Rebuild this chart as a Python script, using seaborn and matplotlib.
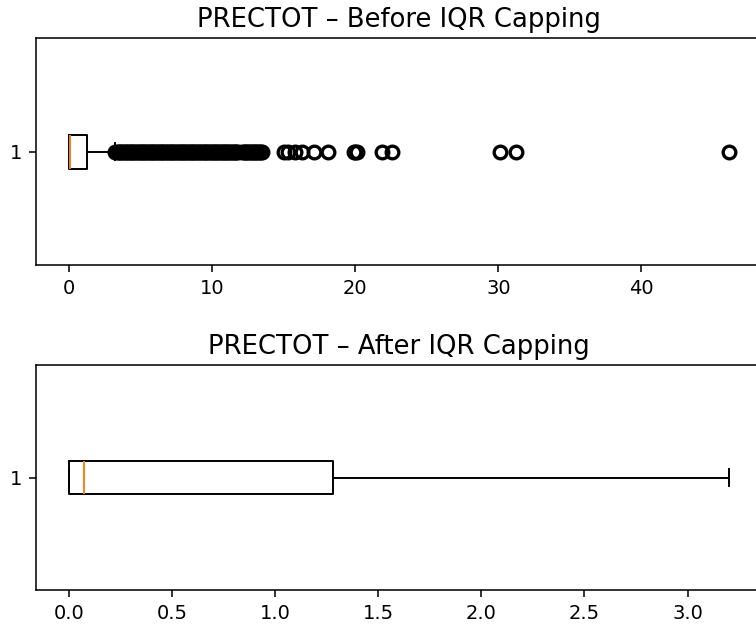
import numpy as np
import pandas as pd
import seaborn as sns
import matplotlib.pyplot as plt

# PRECTOT bulk of the distribution, as value / count pairs
core_values = [0.0, 0.02, 0.05, 0.075, 0.15, 0.3, 0.5, 0.8, 1.0, 1.2,
               1.28, 1.6, 2.0, 2.5, 2.9, 3.2]
core_counts = [240, 60, 70, 60, 40, 35, 35, 30, 20, 6,
               8, 20, 20, 18, 14, 10]

outliers = [
    3.25, 3.4, 3.5, 3.6, 3.7, 3.8, 3.9, 4.0, 4.1, 4.2,
    4.3, 4.4, 4.5, 4.6, 4.7, 4.8, 4.9, 5.0, 5.1, 5.2,
    5.3, 5.4, 5.5, 5.6, 5.7, 5.8, 5.9, 6.0, 6.1, 6.2,
    6.3, 6.4, 6.5, 6.6, 6.7, 6.8, 6.9, 7.0, 7.1, 7.2,
    7.3, 7.4, 7.5, 7.6, 7.7, 7.8, 7.9, 8.0, 8.1, 8.2,
    8.3, 8.4, 8.5, 8.6, 8.7, 8.8, 8.9, 9.0, 9.1, 9.2,
    9.3, 9.4, 9.5, 9.6, 9.7, 9.8, 9.9, 10.0, 10.1, 10.2,
    10.3, 10.4, 10.5, 10.6, 10.7, 10.8, 10.9, 11.0, 11.1, 11.2,
    11.3, 11.4, 11.5, 11.6, 11.7, 11.8, 12.1, 12.2, 12.3, 12.4,
    12.5, 12.6, 12.7, 12.8, 12.9, 13.0, 13.1, 13.2, 13.3, 13.4,
    13.5, 15.0, 15.3, 15.8, 16.3, 17.1, 18.1, 19.9, 20.0, 20.1,
    21.9, 22.6, 30.1, 31.2, 46.1,
]

precip = np.concatenate([np.repeat(core_values, core_counts), outliers])

# IQR capping
q1, q3 = np.percentile(precip, [25, 75])
iqr = q3 - q1
lower, upper = q1 - 1.5 * iqr, q3 + 1.5 * iqr
precip_capped = np.clip(precip, lower, upper)

fig = plt.figure(figsize=(5.4, 628 / 140), dpi=140)
ax_top = fig.add_axes([0.0476, 0.578, 0.960, 0.361])
ax_bot = fig.add_axes([0.0476, 0.0605, 0.960, 0.358])

box_kw = dict(
    orient='h', fill=False, color='black', linewidth=1.0, width=0.15, whis=1.5,
    medianprops={'color': '#ff7f0e'},
    flierprops={'marker': 'o', 'markerfacecolor': 'none',
                'markeredgecolor': 'black', 'markersize': 6.5,
                'markeredgewidth': 1.7},
)

for ax, vals, title in [(ax_top, precip, 'PRECTOT – Before IQR Capping'),
                        (ax_bot, precip_capped, 'PRECTOT – After IQR Capping')]:
    df = pd.DataFrame({'PRECTOT': vals, 'grp': '1'})
    sns.boxplot(data=df, x='PRECTOT', y='grp', ax=ax, **box_kw)
    ax.set_title(title, fontsize=13.3)
    ax.set_xlabel('')
    ax.set_ylabel('')

fig.savefig('out.png', dpi=140)
